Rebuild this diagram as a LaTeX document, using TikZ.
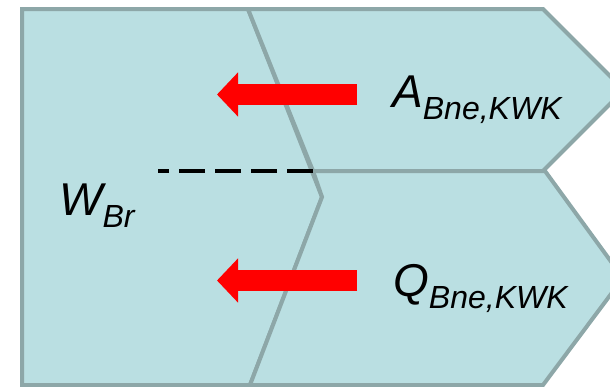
\documentclass[tikz,border=0pt]{standalone}
\usepackage{fontspec}
\setmainfont{Liberation Sans}
\usetikzlibrary{arrows.meta}
\definecolor{panelfill}{RGB}{186,223,226}
\definecolor{panelline}{RGB}{141,167,168}
\definecolor{flowred}{RGB}{255,0,0}
\tikzset{
  panel/.style={fill=panelfill, draw=panelline, line width=4pt, line join=miter},
  flowarrow/.style={draw=flowred, line width=21pt,
    -{Triangle[length=21pt,width=43pt]}},
  divider/.style={draw=black, line width=3.5pt, dash pattern=on 26pt off 10pt},
  symbol/.style={anchor=base west, inner sep=0pt, font=\itshape},
}
\newcommand{\mainsym}[2]{{\fontsize{46}{46}\selectfont #1}\raisebox{-12pt}{\fontsize{32}{32}\selectfont #2}}
\begin{document}
\begin{tikzpicture}[x=1pt, y=-1pt]
  \useasboundingbox (0,0) rectangle (610,386);
  \clip (0,0) rectangle (610,386);

  % reservoir block with pointed right side
  \path[panel] (22,9) -- (248,9) -- (322,197) -- (250,385) -- (22,385) -- cycle;
  % upper inflow chevron
  \path[panel] (248,9) -- (543,9) -- (624,90) -- (543,171) -- (313,171) -- cycle;
  % lower inflow chevron
  \path[panel] (313,171) -- (545,171) -- (623,278) -- (543,385) -- (250,385) -- (322,197) -- cycle;

  % dashed separation line
  \coordinate (dashR) at (313,171);
  \coordinate (dashL) at (158,171);
  \draw[divider] (dashR) -- (dashL);

  % red flow arrows
  \coordinate (aStart) at (357,94.5);
  \coordinate (aEnd) at (217,94.5);
  \coordinate (qStart) at (357,280.5);
  \coordinate (qEnd) at (217,280.5);
  \draw[flowarrow] (aStart) -- (aEnd);
  \draw[flowarrow] (qStart) -- (qEnd);

  % labels
  \node[symbol] (wbr) at (59,215) {\mainsym{W}{Br}};
  \node[symbol] (abne) at (392,107) {\mainsym{A}{Bne,KWK}};
  \node[symbol] (qbne) at (393,296) {\mainsym{Q}{Bne,KWK}};
\end{tikzpicture}
\end{document}
